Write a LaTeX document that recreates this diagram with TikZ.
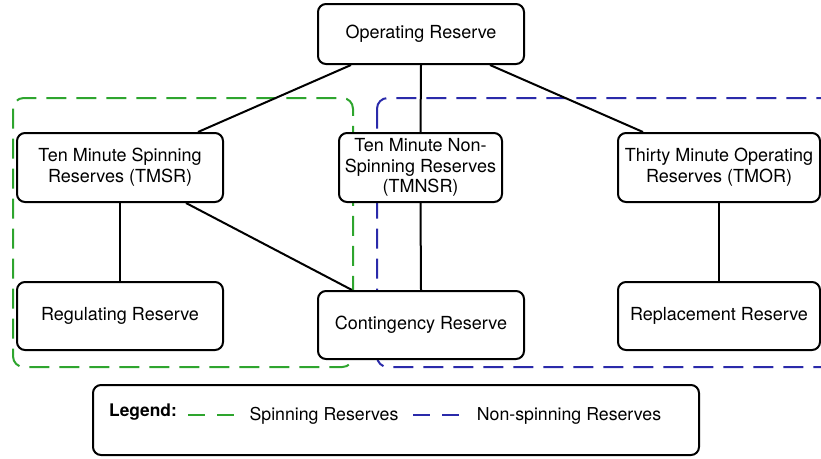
\documentclass[tikz,border=0pt]{standalone}
\usepackage{fontspec}
\setmainfont{TeX Gyre Heros}
\usetikzlibrary{positioning,calc}
\definecolor{spingreen}{RGB}{46,165,46}
\definecolor{nonspinblue}{RGB}{42,42,170}

\begin{document}
\begin{tikzpicture}
[x=0.75pt,y=-0.75pt,
box/.style = {draw, fill=white, line width=1.5pt, rounded corners=6pt, align=center, inner sep=2pt,
  font=\fontsize{13.5}{15.5}\selectfont, execute at begin node={\vspace*{4pt}}},
link/.style = {line width=1.5pt},
spinzone/.style = {draw=spingreen, line width=1.5pt, rounded corners=8pt, dash pattern=on 15pt off 7.5pt},
nonspinzone/.style = {draw=nonspinblue, line width=1.5pt, rounded corners=8pt, dash pattern=on 15pt off 7.5pt},
legendtext/.style = {font=\fontsize{13.3}{15}\selectfont, inner sep=0pt},]
\useasboundingbox (0,0) rectangle (821,458);
\clip (0,0) rectangle (821,458);

% zones
\draw[spinzone] (13,98) rectangle (353,367);
\draw[nonspinzone] (377,98) rectangle (860,367);

\node (OR) at (421,34)[box,minimum width=154.5pt,minimum height=45pt] {Operating Reserve};
\node (TMSR) at (120,167.5)[box,minimum width=154.5pt,minimum height=51.75pt] {Ten Minute Spinning\\Reserves (TMSR)};
\node (TMNSR) at (420.5,167.5)[box,minimum width=122.25pt,minimum height=51.75pt] {Ten Minute Non-\\Spinning Reserves\\(TMNSR)};
\node (TMOR) at (719,167.5)[box,minimum width=151.5pt,minimum height=51.75pt] {Thirty Minute Operating\\Reserves (TMOR)};
\node (RR) at (120,316)[box,minimum width=154.5pt,minimum height=51pt] {Regulating Reserve};
\node (CR) at (421,325)[box,minimum width=154.5pt,minimum height=51pt] {Contingency Reserve};
\node (RPR) at (719,316)[box,minimum width=151.5pt,minimum height=51pt] {Replacement Reserve};

\draw[link] ([xshift=-52.5pt]OR.south)--([xshift=58.5pt]TMSR.north);
\draw[link] (OR.south)--(TMNSR.north);
\draw[link] ([xshift=51.75pt]OR.south)--([xshift=-57pt]TMOR.north);
\draw[link] (TMSR.south)--(RR.north);
\draw[link] ([xshift=49.5pt]TMSR.south)--([xshift=26.25pt]CR.north west);
\draw[link] (TMNSR.south)--(CR.north);
\draw[link] (TMOR.south)--(RPR.north);

% legend
\node (legend) at (396,420)[box,minimum width=454.5pt,minimum height=52.5pt] {};
\node (legtitle) at (143,412)[legendtext,font=\fontsize{13}{15}\selectfont\bfseries] {Legend:};
\coordinate (g1) at (188,415);
\coordinate (g2) at (236,415);
\coordinate (b1) at (413,415);
\coordinate (b2) at (462,415);
\draw[spinzone,dash pattern=on 12.75pt off 9pt] (g1)--(g2);
\node (spinlabel) at (324,416)[legendtext] {Spinning Reserves};
\draw[nonspinzone,dash pattern=on 12.75pt off 9pt] (b1)--(b2);
\node (nonspinlabel) at (569,416)[legendtext] {Non-spinning Reserves};

\end{tikzpicture}
\end{document}
